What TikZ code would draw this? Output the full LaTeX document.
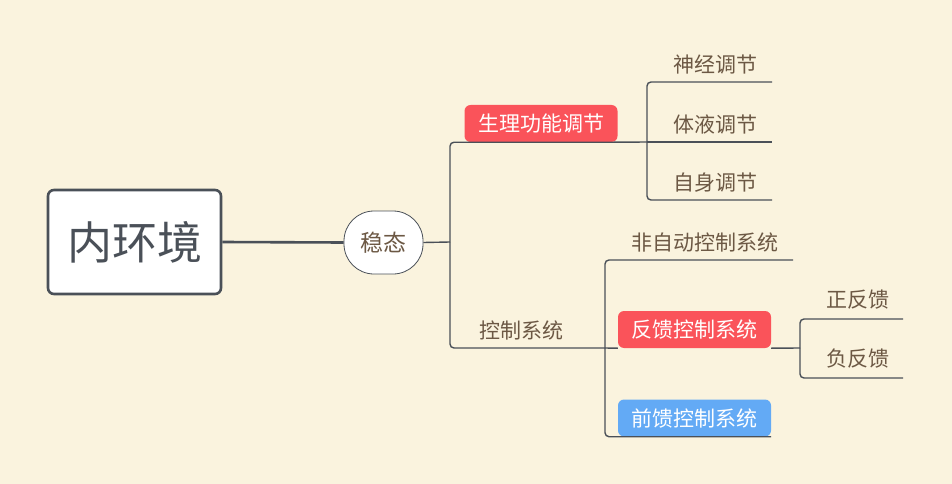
\documentclass[tikz,border=0pt]{standalone}
\usepackage{fontspec}
\setmainfont{Noto Sans CJK SC}
\definecolor{bg}{RGB}{250,243,222}
\definecolor{ln}{RGB}{74,80,88}
\definecolor{lbl}{RGB}{108,88,68}
\definecolor{rbox}{RGB}{250,83,90}
\definecolor{bbox}{RGB}{99,170,245}
\begin{document}
\begin{tikzpicture}[x=1pt,y=-1pt,
  conn/.style={draw=ln,line width=1.4pt,rounded corners=4pt},
  lab/.style={text=lbl,font=\fontsize{21}{21}\selectfont,inner sep=0pt},
  tag/.style={rounded corners=6pt,text=white,font=\fontsize{21}{21}\selectfont,minimum width=153pt,minimum height=37pt,inner sep=0pt}]
\fill[bg] (0,0) rectangle (952,484);
\useasboundingbox (0,0) rectangle (952,484);
% root
\node[draw=ln,line width=2.6pt,fill=white,rounded corners=6pt,minimum width=173pt,minimum height=104pt,inner sep=0pt,text=ln,font=\fontsize{45}{45}\selectfont] (root) at (134.5,242) {内环境};
\node[draw=ln,line width=0.8pt,fill=white,rounded corners=30pt,minimum width=79pt,minimum height=63pt,inner sep=0pt,text=lbl,font=\fontsize{23}{23}\selectfont] (wt) at (383.5,242.5) {稳态};
\draw[draw=ln,line width=2.6pt] (root.east) -- (wt.west);
% level 2
\coordinate (j1) at (450,242);
\node[tag,fill=rbox] (sl) at (541,123.5) {生理功能调节};
\node[lab] (ks) at (521,330) {控制系统};
\coordinate (j3) at (605,348);
\coordinate (j2) at (647,142);
\draw[conn] (wt.east) -- (j1);
\draw[conn] (j1) |- (sl.south east) -- (j2);
\draw[conn] (j1) |- (j3);
% level 3 upper
\node[lab] (a1) at (715,65) {神经调节};
\node[lab] (a2) at (715,124) {体液调节};
\node[lab] (a3) at (715,183) {自身调节};
\coordinate (e1) at (772,82);
\coordinate (e2) at (772,142);
\coordinate (e3) at (772,200);
\draw[conn] (j2) |- (e1);
\draw[conn] (j2) -- (e2);
\draw[conn] (j2) |- (e3);
% level 3 lower
\node[lab] (b1) at (705,242) {非自动控制系统};
\coordinate (f1) at (793,260);
\node[tag,fill=rbox] (fk) at (694.5,329.5) {反馈控制系统};
\node[tag,fill=bbox] (qk) at (694.5,418) {前馈控制系统};
\draw[conn] (j3) |- (f1);
\draw[conn] (j3) -- (fk.south west);
\draw[conn] (j3) |- (qk.south east);
% level 4
\coordinate (j4) at (800,348);
\node[lab] (c1) at (858,300) {正反馈};
\node[lab] (c2) at (858,359) {负反馈};
\coordinate (g1) at (903,319);
\coordinate (g2) at (903,378);
\draw[conn] (fk.south east) -- (j4);
\draw[conn] (j4) |- (g1);
\draw[conn] (j4) |- (g2);
\end{tikzpicture}
\end{document}
